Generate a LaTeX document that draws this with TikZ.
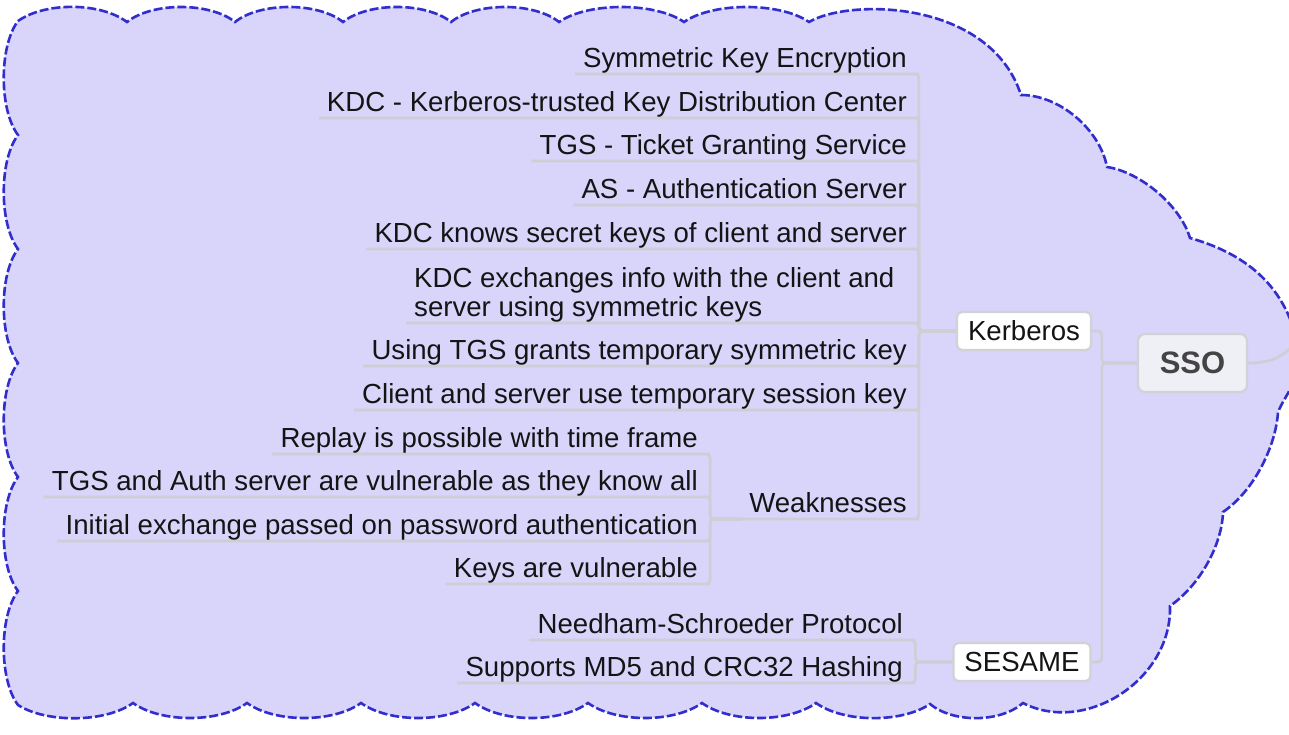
\documentclass[tikz,border=0pt]{standalone}
\usepackage{fontspec}
\setmainfont{Liberation Sans}
\definecolor{cloudfill}{RGB}{216,212,250}
\definecolor{cloudline}{RGB}{50,45,205}
\definecolor{conncol}{RGB}{206,206,212}
\definecolor{boxline}{RGB}{210,210,214}
\definecolor{ssofill}{RGB}{239,239,246}
\definecolor{ssotext}{RGB}{68,68,68}
\definecolor{txt}{RGB}{20,20,20}
\pgfdeclarelayer{back}
\pgfdeclarelayer{mid}
\pgfsetlayers{back,mid,main}
\tikzset{
  cloudshape/.style={fill=cloudfill, draw=cloudline, line width=2.6pt, dash pattern=on 9pt off 3pt},
  conn/.style={draw=conncol, line width=2.6pt, rounded corners=4pt},
  leaf/.style={font=\fontsize{27.6}{29}\selectfont, text=txt, inner xsep=8pt, inner ysep=0pt, text depth=6pt, anchor=south east},
  topicbox/.style={font=\fontsize{27.6}{29}\selectfont, text=txt, fill=white, draw=boxline, line width=2.2pt, rounded corners=5pt, inner xsep=11pt, minimum height=38pt},
  rootbox/.style={font=\fontsize{31}{34}\selectfont\bfseries, text=ssotext, fill=ssofill, draw=boxline, line width=2.2pt, rounded corners=7pt, minimum width=109pt, minimum height=58pt}
}
\begin{document}
\begin{tikzpicture}[x=1pt,y=-1pt]
\useasboundingbox (0,0) rectangle (1289,735);
\clip (0,0) rectangle (1289,735);
\begin{pgfonlayer}{back}
\path[cloudshape] (18,21)
 .. controls (45,2) and (100,2) .. (127,22)
 .. controls (152,2) and (210,2) .. (235,22)
 .. controls (260,2) and (318,2) .. (343,22)
 .. controls (368,2) and (426,2) .. (451,22)
 .. controls (476,2) and (534,2) .. (559,22)
 .. controls (588,2) and (655,2) .. (684,22)
 .. controls (713,2) and (780,2) .. (809,22)
 .. controls (850,-2) and (990,0) .. (1021,95)
 .. controls (1060,95) and (1100,130) .. (1107,167)
 .. controls (1140,172) and (1180,205) .. (1190,238)
 .. controls (1250,255) and (1290,290) .. (1300,356)
 .. controls (1300,380) and (1285,395) .. (1278,412)
 .. controls (1276,445) and (1255,490) .. (1223,512)
 .. controls (1222,545) and (1200,585) .. (1170,606)
 .. controls (1172,680) and (1085,735) .. (1023,703)
 .. controls (1000,723) and (953,723) .. (930,704)
 .. controls (902,723) and (844,723) .. (816,703)
 .. controls (788,723) and (730,723) .. (702,703)
 .. controls (674,723) and (616,723) .. (588,703)
 .. controls (560,723) and (503,723) .. (475,703)
 .. controls (447,723) and (389,723) .. (361,703)
 .. controls (333,723) and (275,723) .. (247,703)
 .. controls (219,723) and (161,723) .. (133,703)
 .. controls (105,723) and (46,723) .. (18,705)
 .. controls (-1,680) and (-1,616) .. (18,591)
 .. controls (-1,566) and (-1,502) .. (18,477)
 .. controls (-1,452) and (-1,388) .. (18,363)
 .. controls (-1,338) and (-1,274) .. (18,249)
 .. controls (-1,224) and (-1,160) .. (18,135)
 .. controls (-1,110) and (-1,46) .. (18,21) -- cycle;
\end{pgfonlayer}

% root and topics
\node[rootbox] (sso) at (1192.5,363) {SSO};
\node[topicbox] (kerb) at (1024,331) {Kerberos};
\node[topicbox] (ses) at (1022,662) {SESAME};

% Kerberos children
\node[leaf] (k1) at (915,74) {Symmetric Key Encryption};
\node[leaf] (k2) at (915,118) {KDC - Kerberos-trusted Key Distribution Center};
\node[leaf] (k3) at (915,161) {TGS - Ticket Granting Service};
\node[leaf] (k4) at (915,205) {AS - Authentication Server};
\node[leaf] (k5) at (915,249) {KDC knows secret keys of client and server};
\node[leaf, anchor=south west, align=left] (k6) at (406,323) {KDC exchanges info with the client and\\server using symmetric keys};
\node[leaf] (k7) at (915,366) {Using TGS grants temporary symmetric key};
\node[leaf] (k8) at (915,410) {Client and server use temporary session key};
\node[leaf] (kw) at (915,519) {Weaknesses};

% Weaknesses children
\node[leaf] (w1) at (706,454) {Replay is possible with time frame};
\node[leaf] (w2) at (706,497) {TGS and Auth server are vulnerable as they know all};
\node[leaf] (w3) at (706,541) {Initial exchange passed on password authentication};
\node[leaf] (w4) at (706,584) {Keys are vulnerable};

% SESAME children
\node[leaf] (s1) at (911,640) {Needham-Schroeder Protocol};
\node[leaf] (s2) at (911,683) {Supports MD5 and CRC32 Hashing};

\begin{pgfonlayer}{mid}
\coordinate (out) at (1300,338);
\draw[conn] (sso.east) .. controls (1272,363) and (1284,357) .. (out);
\draw[conn] (sso.west) -- ++(-35,0) |- (kerb.east);
\draw[conn] (sso.west) -- ++(-35,0) |- (ses.east);
\foreach \n in {k1,k2,k3,k4,k5,k6,k7,k8,kw}
  \draw[conn] (kerb.west) -- ++(-37,0) |- (\n.south east) -- (\n.south west);
\foreach \n in {w1,w2,w3,w4}
  \draw[conn] (kw.south west) -- ++(-31,0) |- (\n.south east) -- (\n.south west);
\foreach \n in {s1,s2}
  \draw[conn] (ses.west) -- ++(-37,0) |- (\n.south east) -- (\n.south west);
\end{pgfonlayer}
\end{tikzpicture}
\end{document}
